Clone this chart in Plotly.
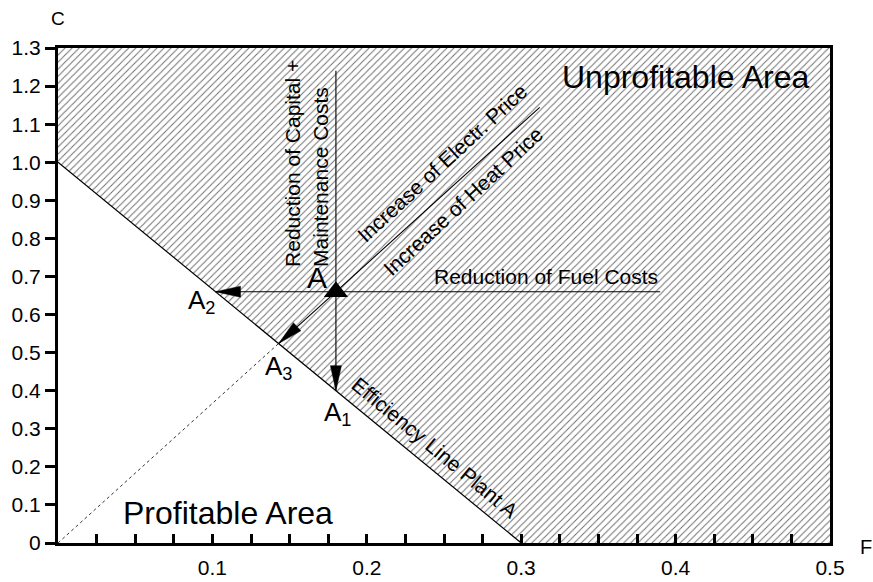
import numpy as np
import plotly.graph_objects as go

# Efficiency line of plant A: C = C0 * (1 - F / F0)
F_line = [0.0, 0.3]
C_line = [1.0, 0.0]

# Operating point A
A_F = 0.18
A_C = 0.66

# Outer ends of the three sensitivity lines through A
vert_top_C = 1.24       # capital + maintenance costs line
horiz_right_F = 0.39    # fuel costs line
diag_top_F = 0.312      # electricity / heat price line

# Axis extents and ticks
F_range = [0.0, 0.5]
C_range = [0.0, 1.3]
F_tickvals = [round(i * 0.025, 3) for i in range(21)]
F_labelled = {0.1: "0.1", 0.2: "0.2", 0.3: "0.3", 0.4: "0.4", 0.5: "0.5"}
C_tickvals = [round(i * 0.1, 1) for i in range(14)]
C_ticktext = ["0", "0.1", "0.2", "0.3", "0.4", "0.5", "0.6", "0.7",
              "0.8", "0.9", "1.0", "1.1", "1.2", "1.3"]

C0, F0 = C_line[0], F_line[1]

# Figure geometry
W, H = 873, 582
M = dict(l=58, r=43, t=48, b=39)
px_per_F = (W - M["l"] - M["r"]) / (F_range[1] - F_range[0])
px_per_C = (H - M["t"] - M["b"]) / (C_range[1] - C_range[0])


def on_eff_line_C(f):
    return C0 * (1 - f / F0)


def on_eff_line_F(c):
    return F0 * (1 - c / C0)


# Target points on the efficiency line
A1 = (A_F, on_eff_line_C(A_F))
A2 = (on_eff_line_F(A_C), A_C)
slope = A_C / A_F
A3_F = C0 / (slope + C0 / F0)
A3 = (A3_F, slope * A3_F)
diag_top = (diag_top_F, slope * diag_top_F)

FONT = "Liberation Sans, Arial, Helvetica, sans-serif"

fig = go.Figure()

# Hatched unprofitable region above the efficiency line
fig.add_trace(go.Scatter(
    x=[0, 0, F_range[1], F_range[1], F_line[1], 0],
    y=[C0, C_range[1], C_range[1], 0, 0, C0],
    fill="toself", mode="lines", line=dict(width=0),
    fillcolor="rgba(0,0,0,0)",
    fillpattern=dict(shape="/", size=5, solidity=0.2,
                     fgcolor="#707070", bgcolor="white", fillmode="replace"),
    hoverinfo="skip", showlegend=False,
))

# Efficiency line
fig.add_trace(go.Scatter(x=F_line, y=C_line, mode="lines",
                         line=dict(color="black", width=1.2),
                         showlegend=False, hoverinfo="skip"))

# Dotted ray from the origin to A3
fig.add_trace(go.Scatter(x=[0, A3[0]], y=[0, A3[1]], mode="lines",
                         line=dict(color="#333333", width=1, dash="dot"),
                         showlegend=False, hoverinfo="skip"))


def arrow_head(start, end, length=25, half_width=5.5):
    """Slender filled arrow head with its tip on `end`, built in pixel space."""
    dx = (end[0] - start[0]) * px_per_F
    dy = (end[1] - start[1]) * px_per_C
    n = np.hypot(dx, dy)
    ux, uy = dx / n, dy / n
    bx, by = -ux * length, -uy * length
    px = [0, bx - uy * half_width, bx + uy * half_width, 0]
    py = [0, by + ux * half_width, by - ux * half_width, 0]
    xs = [end[0] + p / px_per_F for p in px]
    ys = [end[1] + p / px_per_C for p in py]
    return xs, ys


# Sensitivity arrows ending on the efficiency line
arrow_paths = [
    ((A_F, vert_top_C), A1),
    ((horiz_right_F, A_C), A2),
    (diag_top, A3),
]
for start, end in arrow_paths:
    fig.add_trace(go.Scatter(
        x=[start[0], end[0]], y=[start[1], end[1]], mode="lines",
        line=dict(color="black", width=1.1),
        showlegend=False, hoverinfo="skip",
    ))
    hx, hy = arrow_head(start, end)
    fig.add_trace(go.Scatter(
        x=hx, y=hy, mode="lines", fill="toself", fillcolor="black",
        line=dict(color="black", width=0.5),
        showlegend=False, hoverinfo="skip",
    ))

# Operating point A
fig.add_trace(go.Scatter(x=[A_F], y=[A_C], mode="markers",
                         marker=dict(symbol="triangle-up", size=21, color="black",
                                     line=dict(width=0)),
                         showlegend=False, hoverinfo="skip"))

axis_common = dict(showgrid=False, zeroline=False, tickcolor="black",
                   tickwidth=3, automargin=False,
                   tickfont=dict(family=FONT, size=21, color="black"))

F_ticktext = [F_labelled.get(round(v, 3), "") for v in F_tickvals]

fig.update_layout(
    width=W, height=H,
    margin=M,
    paper_bgcolor="white", plot_bgcolor="white",
    # Labelled axes carry the inside half of each tick
    xaxis=dict(range=F_range, tickmode="array", tickvals=F_tickvals,
               ticktext=F_ticktext, ticklabelstandoff=4,
               ticks="inside", ticklen=9, showline=True, linewidth=3,
               linecolor="black", mirror=True, **axis_common),
    yaxis=dict(range=C_range, tickmode="array", tickvals=C_tickvals,
               ticktext=C_ticktext, ticks="outside", ticklen=10,
               showline=True, linewidth=3, linecolor="black", mirror=True,
               **axis_common),
    # Bare overlay axes carry the other half, so ticks cross the axis line
    xaxis2=dict(overlaying="x", anchor="y", side="bottom", matches="x",
                range=F_range, tickmode="array", tickvals=F_tickvals,
                ticks="outside", ticklen=10, showticklabels=False,
                showline=False, **axis_common),
    yaxis2=dict(overlaying="y", anchor="x", side="left", matches="y",
                range=C_range, tickmode="array", tickvals=C_tickvals,
                ticks="inside", ticklen=9, showticklabels=False,
                showline=False, **axis_common),
)


def label(text, x, y, size, angle=0, xanchor="center", yanchor="middle",
          align="center", **kw):
    fig.add_annotation(text=text, x=x, y=y, xref="x", yref="y",
                       showarrow=False, textangle=angle,
                       xanchor=xanchor, yanchor=yanchor, align=align,
                       font=dict(family=FONT, size=size, color="black"), **kw)


# Axis titles
label("C", 0, C_range[1], 19, yshift=30)
label("F", F_range[1], 0, 20, xshift=36, yshift=-4)

# Region names
label("Unprofitable Area", 0.4067, 1.224, 32)
label("Profitable Area", 0.041, 0.079, 32, xanchor="left")

# Line descriptions
label("Reduction of Fuel Costs", horiz_right_F, 0.699, 21, xanchor="right")
label("Reduction of Capital +<br>Maintenance Costs", 0.161, 0.72, 21,
      angle=-90, yanchor="bottom", align="left")
label("Increase of Electr. Price", 0.249, 1.0, 21, angle=-42.6)
label("Increase of Heat Price", 0.262, 0.898, 21, angle=-42.6)
label("Efficiency Line Plant A", 0.244, 0.25, 21, angle=39.5)

# Point names
label("A", 0.168, 0.697, 30)
label("A<sub>2</sub>", 0.093, 0.635, 26)
label("A<sub>3</sub>", 0.143, 0.46, 26)
label("A<sub>1</sub>", 0.181, 0.34, 26)

fig.write_html("out.html")
